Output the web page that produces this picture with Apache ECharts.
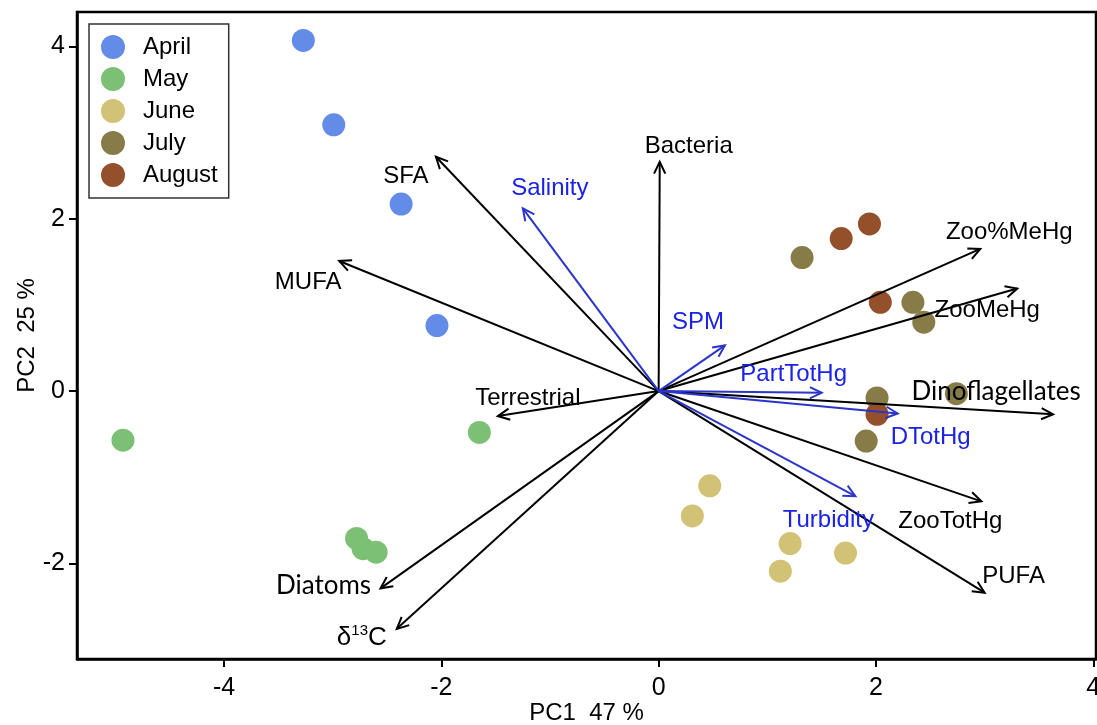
<!DOCTYPE html>
<html>
<head>
<meta charset="utf-8">
<script src="https://cdn.jsdelivr.net/npm/echarts@6/dist/echarts.min.js"></script>
<style>html,body{margin:0;padding:0;background:#fff;overflow:hidden;}#c{width:1097px;height:725px;}</style>
</head>
<body>
<div id="c"></div>
<script>
// ---- data ----
const months = ['April', 'May', 'June', 'July', 'August'];
const aprilPts = [[-3.27, 4.07], [-2.99, 3.09], [-2.37, 2.17], [-2.04, 0.76]];
const mayPts = [[-4.93, -0.57], [-1.65, -0.48], [-2.78, -1.71], [-2.72, -1.83], [-2.60, -1.87]];
const junePts = [[0.47, -1.10], [0.31, -1.45], [1.21, -1.77], [1.72, -1.88], [1.12, -2.09]];
const julyPts = [[1.32, 1.55], [2.34, 1.03], [2.44, 0.80], [2.74, -0.03], [2.01, -0.08], [1.91, -0.58]];
const augustPts = [[1.68, 1.77], [1.94, 1.94], [2.04, 1.03], [2.01, -0.27]];

const varNames = ['Bacteria', 'SFA', 'MUFA', 'Terrestrial', 'Diatoms', 'δ13C', 'Zoo%MeHg', 'ZooMeHg', 'Dinoflagellates', 'ZooTotHg', 'PUFA'];
const varPC1 = [0.01, -2.05, -2.94, -1.48, -2.56, -2.41, 2.96, 3.30, 3.63, 2.97, 3.00];
const varPC2 = [2.66, 2.72, 1.51, -0.29, -2.29, -2.76, 1.65, 1.19, -0.27, -1.28, -2.34];

const envNames = ['Salinity', 'SPM', 'PartTotHg', 'DTotHg', 'Turbidity'];
const envPC1 = [-1.25, 0.61, 1.50, 2.20, 1.81];
const envPC2 = [2.12, 0.53, -0.02, -0.26, -1.22];

const xTicks = [-4, -2, 0, 2, 4];
const yTicks = [-2, 0, 2, 4];

// ---- style / layout ----
const monthColors = ['#628ce8', '#7cc075', '#d2c276', '#877b47', '#94502a'];
const varLabelOffset = {
  'Bacteria': [29, -16], 'SFA': [-30, 20], 'MUFA': [-31, 21], 'Terrestrial': [30, -18],
  'Diatoms': [-57, -3], 'δ13C': [-35, 9], 'Zoo%MeHg': [29, -17], 'ZooMeHg': [-30, 22],
  'Dinoflagellates': [-57, -23], 'ZooTotHg': [-31, 20], 'PUFA': [29, -16]
};
const envLabelOffset = {
  'Salinity': [27, -20], 'SPM': [-27, -23], 'PartTotHg': [-28, -18], 'DTotHg': [33, 24], 'Turbidity': [-27, 24]
};
const specialFont = { 'Diatoms': '26px Lato', 'Dinoflagellates': '26px Lato' };
const BASE_FONT = '"Liberation Sans", Arial, sans-serif';

function arrowRenderer(names, offsets, lineColor, textColor) {
  return function (params, api) {
    const idx = api.value(2);
    const name = names[idx];
    const tip = api.coord([api.value(0), api.value(1)]);
    const o = api.coord([0, 0]);
    const ang = Math.atan2(tip[1] - o[1], tip[0] - o[0]);
    const L = 13, a = Math.PI / 7;
    const p1 = [tip[0] - L * Math.cos(ang - a), tip[1] - L * Math.sin(ang - a)];
    const p2 = [tip[0] - L * Math.cos(ang + a), tip[1] - L * Math.sin(ang + a)];
    const off = offsets[name];
    const children = [
      { type: 'line', shape: { x1: o[0], y1: o[1], x2: tip[0], y2: tip[1] }, style: { stroke: lineColor, lineWidth: 2 } },
      { type: 'polyline', shape: { points: [p1, tip, p2] }, style: { stroke: lineColor, lineWidth: 2, fill: null } }
    ];
    let textEl;
    if (name === 'δ13C') {
      textEl = {
        type: 'text',
        style: {
          x: tip[0] + off[0], y: tip[1] + off[1],
          text: '{a|δ}{s|13}{a|C}',
          align: 'center', verticalAlign: 'middle',
          rich: {
            a: { fontSize: 26, fontFamily: BASE_FONT, fill: textColor, lineHeight: 28 },
            s: { fontSize: 15, fontFamily: BASE_FONT, fill: textColor, verticalAlign: 'top', lineHeight: 28, padding: [0, 0, 6, 0] }
          }
        }
      };
    } else {
      textEl = {
        type: 'text',
        style: {
          x: tip[0] + off[0], y: tip[1] + off[1], text: name,
          font: specialFont[name] || ('24px ' + BASE_FONT),
          fill: textColor, align: 'center', verticalAlign: 'middle'
        }
      };
    }
    children.push(textEl);
    return { type: 'group', children: children };
  };
}

const monthSeries = [aprilPts, mayPts, junePts, julyPts, augustPts].map((pts, i) => ({
  name: months[i], type: 'scatter', data: pts, symbolSize: 23, z: 2,
  itemStyle: { color: monthColors[i], opacity: 1 }
}));

const chart = echarts.init(document.getElementById('c'), null, { renderer: 'canvas' });
chart.setOption({
  animation: false,
  backgroundColor: '#fff',
  grid: { left: 77, top: 12, right: 1, bottom: 66, show: true, borderColor: '#000', borderWidth: 2.5, backgroundColor: 'transparent', outerBoundsMode: 'none', containLabel: false },
  legend: {
    data: months, orient: 'vertical', left: 89, top: 24,
    icon: 'circle', itemWidth: 24, itemHeight: 24, itemGap: 8,
    padding: [11, 11, 11, 12],
    borderColor: '#333', borderWidth: 1.5, backgroundColor: '#fff',
    textStyle: { fontSize: 24, fontFamily: BASE_FONT, color: '#000', padding: [0, 0, 0, 13] },
    selectedMode: false
  },
  xAxis: {
    type: 'value', min: -5.353, max: 4.025,
    name: 'PC1  47 %', nameLocation: 'middle', nameGap: 42, nameMoveOverlap: false,
    nameTextStyle: { fontSize: 24, fontFamily: BASE_FONT, color: '#000' },
    splitLine: { show: false },
    axisLine: { show: true, onZero: false, lineStyle: { color: '#000', width: 2.5 } },
    axisTick: { show: true, length: 8, lineStyle: { color: '#000', width: 2 }, customValues: xTicks },
    axisLabel: { fontSize: 25, fontFamily: BASE_FONT, color: '#000', margin: 17, customValues: xTicks }
  },
  yAxis: {
    type: 'value', min: -3.11, max: 4.40,
    name: 'PC2  25 %', nameLocation: 'middle', nameGap: 38, nameRotate: 90, nameMoveOverlap: false,
    nameTextStyle: { fontSize: 24, fontFamily: BASE_FONT, color: '#000' },
    splitLine: { show: false },
    axisLine: { show: true, onZero: false, lineStyle: { color: '#000', width: 2.5 } },
    axisTick: { show: true, length: 8, lineStyle: { color: '#000', width: 2 }, customValues: yTicks },
    axisLabel: { fontSize: 25, fontFamily: BASE_FONT, color: '#000', margin: 12, customValues: yTicks }
  },
  series: monthSeries.concat([
    {
      type: 'custom', name: 'variables', z: 5, clip: false, silent: true,
      renderItem: arrowRenderer(varNames, varLabelOffset, '#000', '#000'),
      data: varNames.map((n, i) => [varPC1[i], varPC2[i], i])
    },
    {
      type: 'custom', name: 'environment', z: 6, clip: false, silent: true,
      renderItem: arrowRenderer(envNames, envLabelOffset, '#2b35c8', '#1a22e6'),
      data: envNames.map((n, i) => [envPC1[i], envPC2[i], i])
    }
  ])
});
</script>
</body>
</html>
